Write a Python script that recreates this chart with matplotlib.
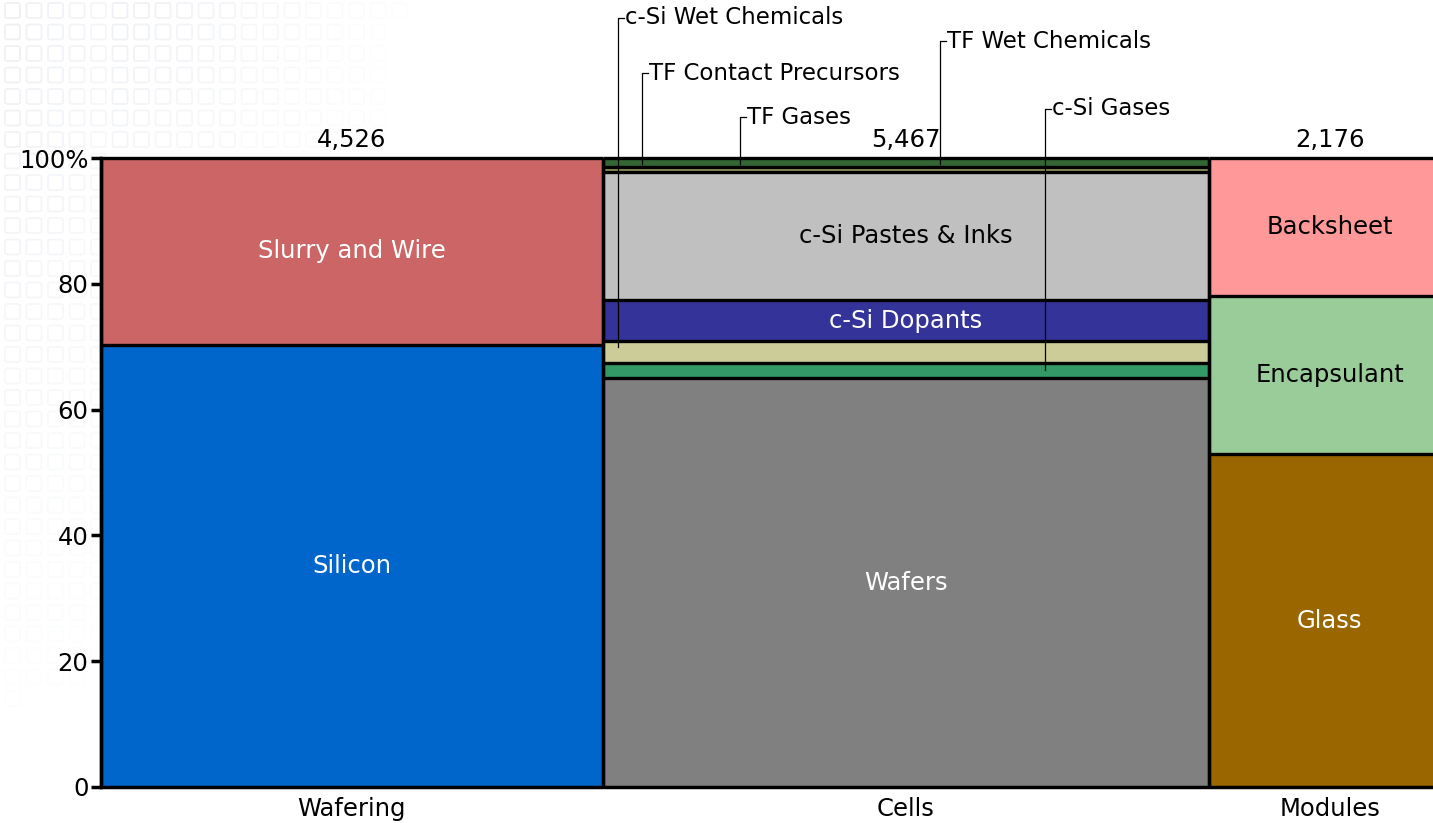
import numpy as np
import matplotlib
matplotlib.use('Agg')
import matplotlib.pyplot as plt
from matplotlib.patches import FancyBboxPatch

# Value chain stages and their totals (bar widths)
stages = ['Wafering', 'Cells', 'Modules']
totals = [4526, 5467, 2176]

# Share of each stage (percent), listed bottom to top
wafering_parts = ['Silicon', 'Slurry and Wire']
wafering_pct = [70.3, 29.7]

cells_parts = ['Wafers', 'c-Si Gases', 'c-Si Wet Chemicals', 'c-Si Dopants',
               'c-Si Pastes & Inks', 'TF Contact Precursors', 'TF Gases', 'TF Wet Chemicals']
cells_pct = [65.0, 2.4, 3.5, 6.5, 20.4, 0.7, 0.5, 1.0]

modules_parts = ['Glass', 'Encapsulant', 'Backsheet']
modules_pct = [52.9, 25.2, 21.9]

parts = [wafering_parts, cells_parts, modules_parts]
pcts = [wafering_pct, cells_pct, modules_pct]

colors = {
    'Silicon': '#0066CC', 'Slurry and Wire': '#CC6666',
    'Wafers': '#808080', 'c-Si Gases': '#339966', 'c-Si Wet Chemicals': '#CCCC99',
    'c-Si Dopants': '#333399', 'c-Si Pastes & Inks': '#C0C0C0',
    'TF Contact Precursors': '#999966', 'TF Gases': '#336633', 'TF Wet Chemicals': '#336633',
    'Glass': '#996600', 'Encapsulant': '#99CC99', 'Backsheet': '#FF9999',
}
inside_labels = {
    'Silicon': 'white', 'Slurry and Wire': 'white', 'Wafers': 'white',
    'c-Si Dopants': 'white', 'c-Si Pastes & Inks': 'black',
    'Glass': 'white', 'Encapsulant': 'black', 'Backsheet': 'black',
}

# thin cell segments get callout labels: (name, x fraction in bar, label height, pointer height)
callouts = [
    ('c-Si Wet Chemicals', 0.025, 122.3, 70.0),
    ('TF Contact Precursors', 0.064, 113.5, 99.0),
    ('TF Gases', 0.226, 106.5, 99.0),
    ('TF Wet Chemicals', 0.556, 118.6, 99.0),
    ('c-Si Gases', 0.73, 107.8, 66.3),
]

W, H = 1433, 823
fig = plt.figure(figsize=(W / 100, H / 100), dpi=100)
fig.patch.set_facecolor('white')

# faint tiled squares in the top-left background
pitch = 21.5
for i in range(22):
    for j in range(36):
        px = 5 + i * pitch
        top = 3 + j * pitch
        if px < 100:
            a = 0.12 * max(0.0, 1 - top / 760.0) * (1 - px / 260.0)
        elif top < 150:
            a = 0.12 * max(0.0, 1 - (px - 100) / 320.0) * (1 - top / 400.0)
        else:
            a = 0
        if a <= 0.01:
            continue
        fig.patches.append(FancyBboxPatch((px / W, (H - top - 15) / H), 15 / W, 15 / H,
                                          boxstyle='round,pad=0,rounding_size=0.002',
                                          transform=fig.transFigure, facecolor='none',
                                          edgecolor='#6f80a8', alpha=a, linewidth=1.3,
                                          zorder=-5))

total = sum(totals)
px_per_unit = 1108 / (totals[0] + totals[1])
ax_left, ax_bottom, ax_top = 101, 823 - 787, 823 - 158
ax = fig.add_axes([ax_left / W, ax_bottom / H, total * px_per_unit / W, (ax_top - ax_bottom) / H])
ax.set_facecolor('none')
ax.set_xlim(0, total)
ax.set_ylim(0, 100)

label_fs = 17.5
edge_lw = 2.4
lefts = np.concatenate([[0], np.cumsum(totals)[:-1]])
for k, (names, vals) in enumerate(zip(parts, pcts)):
    x0, w = lefts[k], totals[k]
    bottoms = np.concatenate([[0], np.cumsum(vals)[:-1]])
    ax.bar(x0, vals, width=w, bottom=bottoms, align='edge',
           color=[colors[n] for n in names], edgecolor='none', zorder=2)
    # black borders wherever the fill colour changes
    tops = bottoms + np.array(vals)
    for m in range(len(names)):
        if m == len(names) - 1 or colors[names[m]] != colors[names[m + 1]]:
            ax.hlines(tops[m], x0, x0 + w, color='black', linewidth=edge_lw, zorder=3,
                      clip_on=False)
    ax.vlines([x0, x0 + w], 0, 100, color='black', linewidth=edge_lw, zorder=3, clip_on=False)
    for n, b, v in zip(names, bottoms, vals):
        if n in inside_labels:
            ax.text(x0 + w / 2, b + v / 2, n, ha='center', va='center',
                    color=inside_labels[n], fontsize=label_fs, zorder=4)
    ax.text(x0 + w / 2, 100.9, f'{totals[k]:,}', ha='center', va='bottom',
            fontsize=label_fs, clip_on=False)

# callout leaders for the thin cell segments
cx0, cw = lefts[1], totals[1]
tick = 6 / px_per_unit
for name, frac, ty, py in callouts:
    lx = cx0 + frac * cw
    ax.plot([lx, lx, lx + tick], [py, ty, ty], color='black', linewidth=0.9,
            clip_on=False, zorder=5)
    ax.text(lx + tick + 1 / px_per_unit, ty, name, ha='left', va='center',
            fontsize=16.5, clip_on=False)

ax.set_xticks(lefts + np.array(totals) / 2)
ax.set_xticklabels(stages, fontsize=label_fs)
ax.tick_params(axis='x', length=0, pad=7)
ax.set_yticks([0, 20, 40, 60, 80, 100])
ax.set_yticklabels(['0', '20', '40', '60', '80', '100%'], fontsize=label_fs)
ax.tick_params(axis='y', length=7, width=2.5, pad=2)

for side in ['top', 'right']:
    ax.spines[side].set_visible(False)
for side in ['left', 'bottom']:
    ax.spines[side].set_linewidth(2.5)
    ax.spines[side].set_zorder(3)

fig.savefig('out.png', dpi=100)
